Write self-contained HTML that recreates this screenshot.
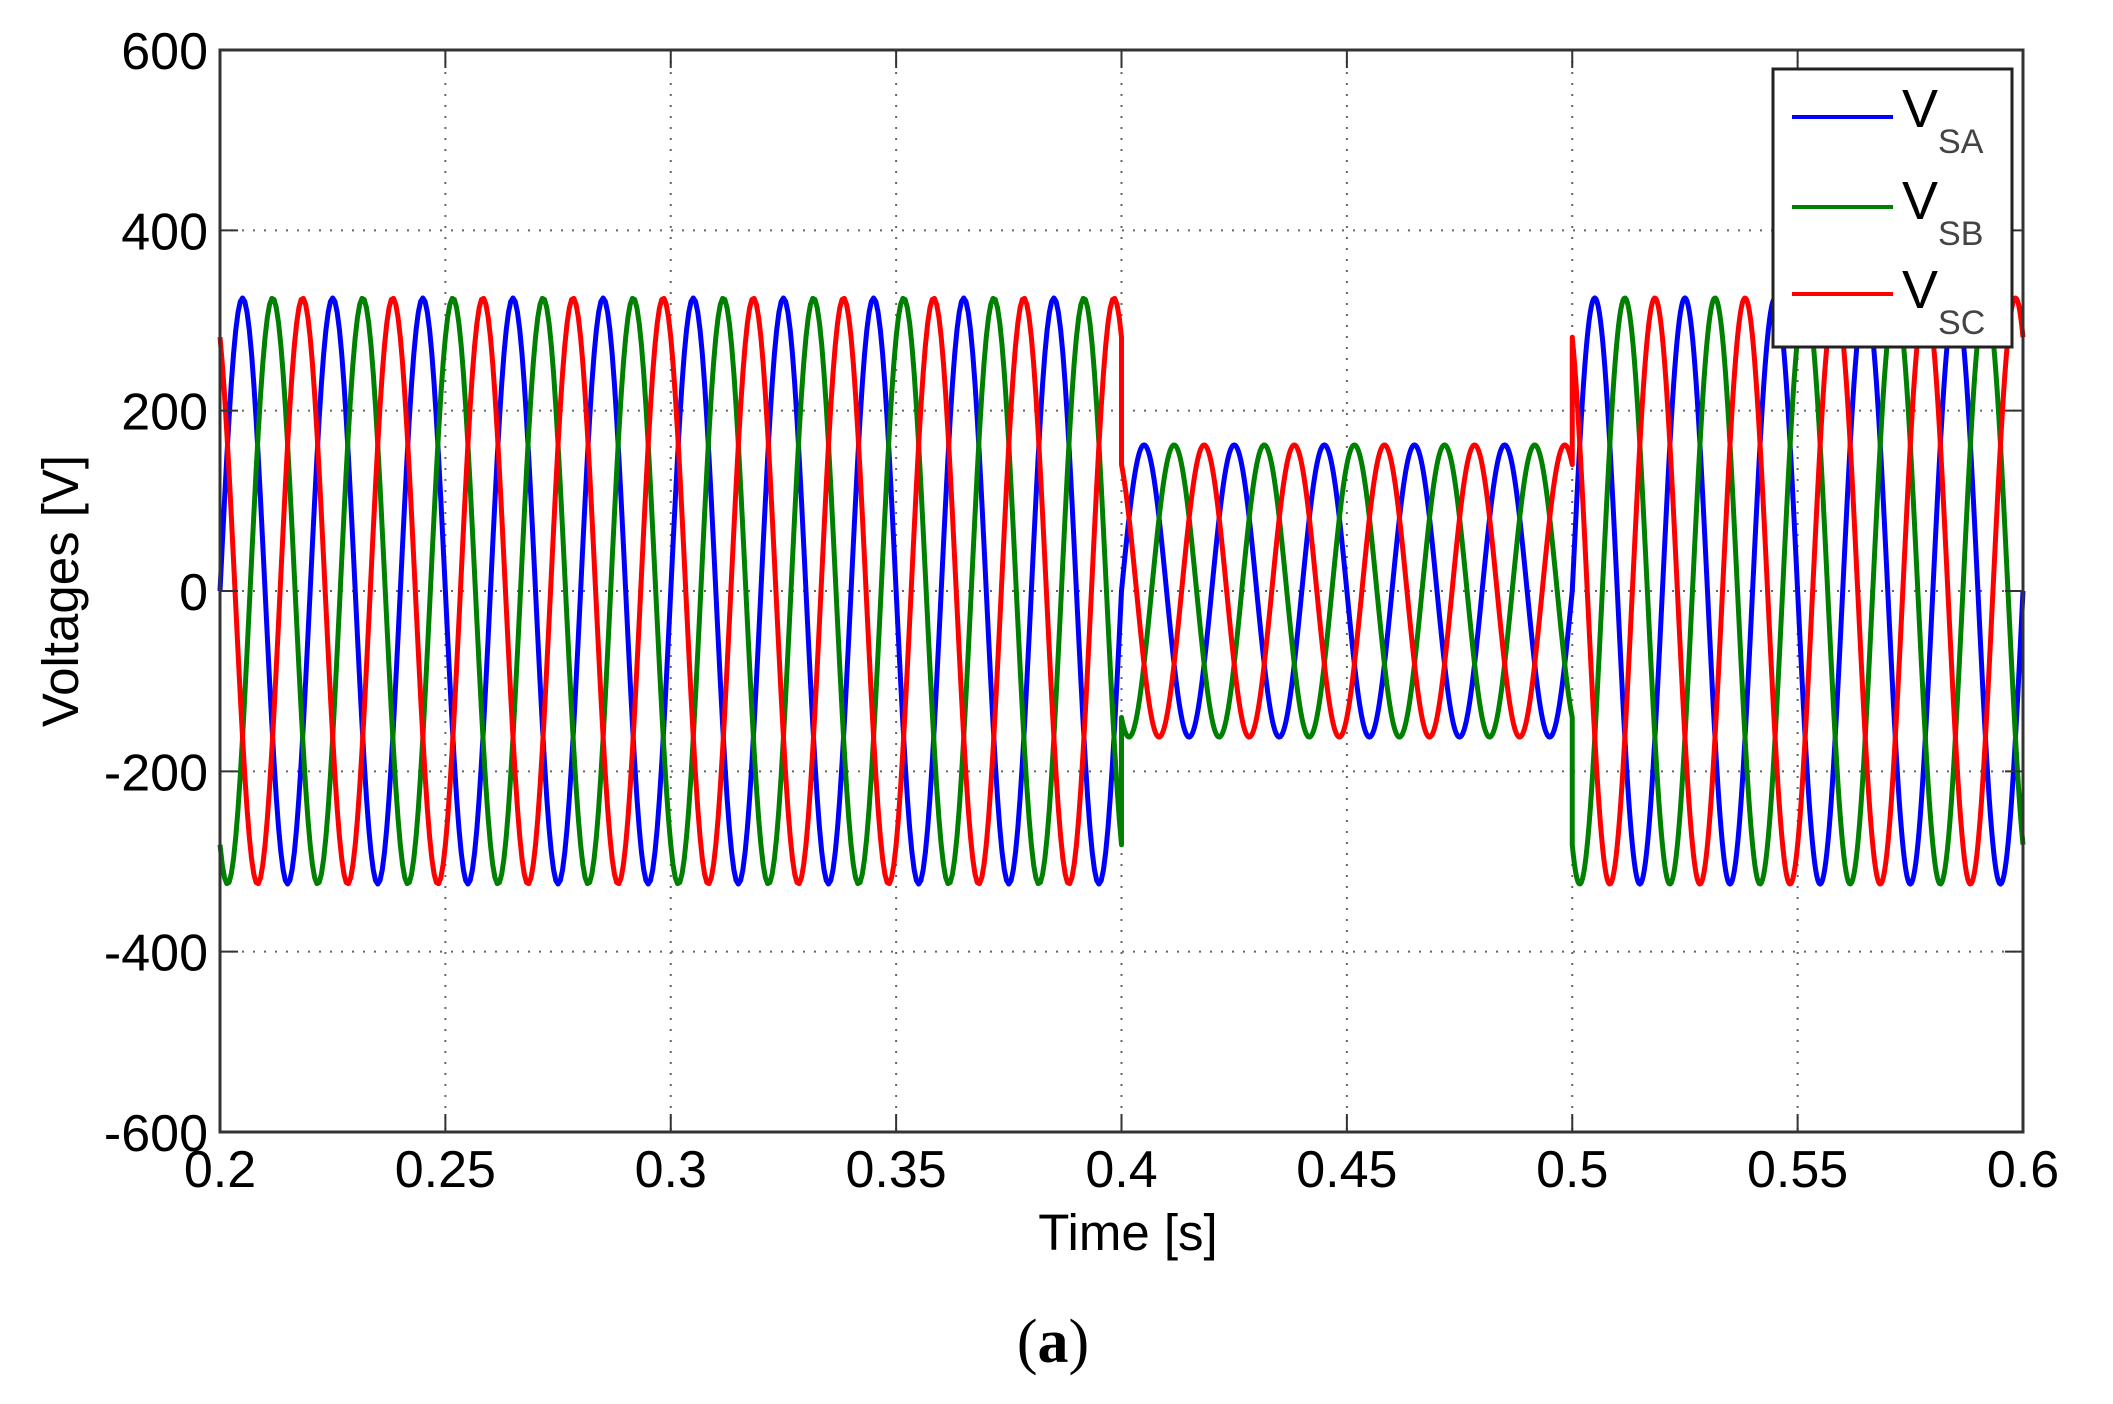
<!DOCTYPE html>
<html><head><meta charset="utf-8"><style>
html,body{margin:0;padding:0;background:#fff;}
svg{display:block;font-family:"Liberation Sans",sans-serif;}
</style></head><body>
<svg id="chart" width="2113" height="1404" viewBox="0 0 2113 1404" xmlns="http://www.w3.org/2000/svg">
<rect x="0" y="0" width="2113" height="1404" fill="#fff"/>
<g id="grid"></g>
<g id="series"></g>
<g id="axes"></g>
<text x="0" y="0" transform="translate(78,591) rotate(-90)" text-anchor="middle" font-size="51" fill="#000">Voltages [V]</text>
<text x="1128" y="1250" text-anchor="middle" font-size="51" fill="#000">Time [s]</text>
<text x="1053" y="1362" text-anchor="middle" font-size="62" font-family="Liberation Serif,serif" fill="#000">(<tspan font-weight="bold">a</tspan>)</text>
<g>
<rect x="1773" y="69" width="239" height="278" fill="#fff" stroke="#222" stroke-width="3"/>
<line x1="1792" y1="117" x2="1893" y2="117" stroke="#0000ff" stroke-width="4"/>
<line x1="1792" y1="207" x2="1893" y2="207" stroke="#008000" stroke-width="4"/>
<line x1="1792" y1="294" x2="1893" y2="294" stroke="#ff0000" stroke-width="4"/>
<text x="1902" y="127" font-size="54" fill="#000">V<tspan font-size="34" fill="#444" dy="26">SA</tspan></text>
<text x="1902" y="219" font-size="54" fill="#000">V<tspan font-size="34" fill="#444" dy="26">SB</tspan></text>
<text x="1902" y="308" font-size="54" fill="#000">V<tspan font-size="34" fill="#444" dy="26">SC</tspan></text>
</g>
</svg>
<script>
const xTicks = [0.2,0.25,0.3,0.35,0.4,0.45,0.5,0.55,0.6];
const xTickLabels = ["0.2","0.25","0.3","0.35","0.4","0.45","0.5","0.55","0.6"];
const yTicks = [600,400,200,0,-200,-400,-600];
const yTickLabels = ["600","400","200","0","-200","-400","-600"];
const seriesNames = ["VSA","VSB","VSC"];
const seriesColors = ["#0000ff","#008000","#ff0000"];
const phaseDeg = [0,-120,120];
const segStart = [0.2,0.4,0.5];
const segEnd = [0.4,0.5,0.6];
const segAmplitude = [325,162,325];
const freqHz = 50;

const L=220,R=2023,T=50,B=1132;
const xs = t => L + (t-0.2)/(0.6-0.2)*(R-L);
const ys = v => T + (600-v)/1200*(B-T);
const NS="http://www.w3.org/2000/svg";
function mk(tag,attrs,parent){const e=document.createElementNS(NS,tag);for(const k in attrs)e.setAttribute(k,attrs[k]);parent.appendChild(e);return e;}
const grid=document.getElementById('grid'), axes=document.getElementById('axes'), ser=document.getElementById('series');

xTicks.forEach((t,i)=>{
  if(i>0&&i<xTicks.length-1){
    const g=mk('line',{x1:xs(t),y1:T,x2:xs(t),y2:B,stroke:'#666','stroke-width':2,'stroke-dasharray':'2 9'},grid);
    
    
  }
  const a=mk('line',{x1:xs(t),y1:B,x2:xs(t),y2:B-18,stroke:'#333','stroke-width':2},axes);
  
  
  const b=mk('line',{x1:xs(t),y1:T,x2:xs(t),y2:T+18,stroke:'#333','stroke-width':2},axes);
  
  
  const tx=mk('text',{x:xs(t),y:B+55,'text-anchor':'middle','font-size':52,fill:'#000'},axes);
  tx.textContent=xTickLabels[i];
  
  
});
yTicks.forEach((v,i)=>{
  if(v!==600&&v!==-600){
    const g=mk('line',{x1:L,y1:ys(v),x2:R,y2:ys(v),stroke:'#666','stroke-width':2,'stroke-dasharray':'2 9'},grid);
    
    
  }
  const a=mk('line',{x1:L,y1:ys(v),x2:L+18,y2:ys(v),stroke:'#333','stroke-width':2},axes);
  
  
  const b=mk('line',{x1:R,y1:ys(v),x2:R-18,y2:ys(v),stroke:'#333','stroke-width':2},axes);
  
  
  const tx=mk('text',{x:L-12,y:ys(v)+19,'text-anchor':'end','font-size':52,fill:'#000'},axes);
  tx.textContent=yTickLabels[i];
  
  
});
const frame=mk('rect',{x:L,y:T,width:R-L,height:B-T,fill:'none',stroke:'#333','stroke-width':3},axes);



seriesNames.forEach((nm,si)=>{
  let d='';
  segStart.forEach((s,k)=>{
    const e=segEnd[k],A=segAmplitude[k],N=400;
    for(let j=0;j<=N;j++){
      const t=s+(e-s)*j/N;
      const v=A*Math.sin(2*Math.PI*freqHz*(t-0.2)+phaseDeg[si]*Math.PI/180);
      d+=(d===''?'M':'L')+xs(t).toFixed(2)+' '+ys(v).toFixed(2)+' ';
    }
  });
  const p=mk('path',{d:d,fill:'none',stroke:seriesColors[si],'stroke-width':5,'stroke-linejoin':'round'},ser);
  
  
});
</script>
</body></html>
